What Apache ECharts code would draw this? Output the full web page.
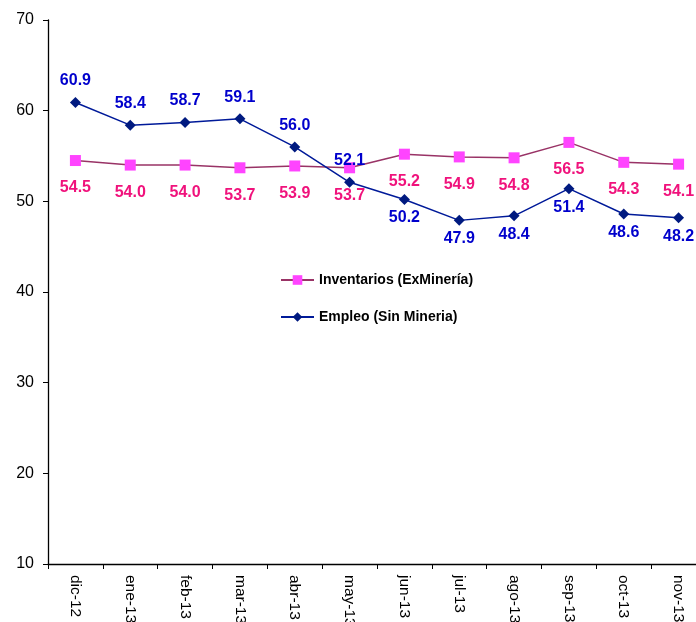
<!DOCTYPE html>
<html>
<head>
<meta charset="utf-8">
<script src="https://cdn.jsdelivr.net/npm/echarts@6/dist/echarts.min.js"></script>
<style>html,body{margin:0;padding:0;background:#fff}#c{width:696px;height:622px}</style>
</head>
<body>
<div id="c"></div>
<script>
const categories = ['dic-12','ene-13','feb-13','mar-13','abr-13','may-13','jun-13','jul-13','ago-13','sep-13','oct-13','nov-13'];
const inventarios = [54.5, 54.0, 54.0, 53.7, 53.9, 53.7, 55.2, 54.9, 54.8, 56.5, 54.3, 54.1];
const empleo = [60.9, 58.4, 58.7, 59.1, 56.0, 52.1, 50.2, 47.9, 48.4, 51.4, 48.6, 48.2];
const yTicks = [10, 20, 30, 40, 50, 60, 70];

const FONT = 'Liberation Sans, Arial, sans-serif';
const chart = echarts.init(document.getElementById('c'), null, {renderer: 'canvas'});
chart.setOption({
  animation: false,
  backgroundColor: '#ffffff',
  textStyle: {fontFamily: FONT},
  grid: {left: 48, right: -10, top: 20, bottom: 58, containLabel: false, outerBoundsMode: 'none'},
  legend: {
    orient: 'vertical',
    left: 275,
    top: 268,
    itemWidth: 33,
    itemHeight: 12,
    itemGap: 23,
    textStyle: {fontFamily: FONT, fontSize: 14, fontWeight: 'bold', color: '#000'},
    data: ['Inventarios (ExMinería)', 'Empleo (Sin Mineria)']
  },
  xAxis: {
    type: 'category',
    data: categories,
    boundaryGap: true,
    axisLine: {lineStyle: {color: '#000', width: 1.3}},
    axisTick: {show: true, length: 5, inside: false, lineStyle: {color: '#000'}},
    axisLabel: {rotate: -90, fontSize: 15.5, color: '#000', margin: 11, fontFamily: FONT},
    splitLine: {show: false}
  },
  yAxis: {
    type: 'value',
    min: yTicks[0],
    max: yTicks[yTicks.length - 1],
    interval: 10,
    axisLine: {show: true, lineStyle: {color: '#000', width: 1.3}},
    axisTick: {show: true, length: 5, lineStyle: {color: '#000'}},
    axisLabel: {fontSize: 16, color: '#000', margin: 14, fontFamily: FONT},
    splitLine: {show: false}
  },
  series: [
    {
      name: 'Inventarios (ExMinería)',
      type: 'line',
      data: inventarios,
      symbol: 'rect',
      symbolSize: 11,
      lineStyle: {color: '#993366', width: 1.5},
      itemStyle: {color: '#ff44ff'},
      label: {
        show: true, position: 'bottom', distance: 14,
        formatter: p => p.value.toFixed(1),
        color: '#f0127c', fontSize: 16, fontWeight: 'bold', fontFamily: FONT
      }
    },
    {
      name: 'Empleo (Sin Mineria)',
      type: 'line',
      data: empleo.map((v, i) => ({
        value: v,
        label: {position: i < 6 ? 'top' : 'bottom', distance: i < 6 ? 8 : 5}
      })),
      symbol: 'diamond',
      symbolSize: [11, 11],
      lineStyle: {color: '#001a99', width: 1.5},
      itemStyle: {color: '#001a80'},
      label: {
        show: true,
        formatter: p => p.value.toFixed(1),
        color: '#0000cc', fontSize: 16, fontWeight: 'bold', fontFamily: FONT
      }
    }
  ]
});
</script>
</body>
</html>
